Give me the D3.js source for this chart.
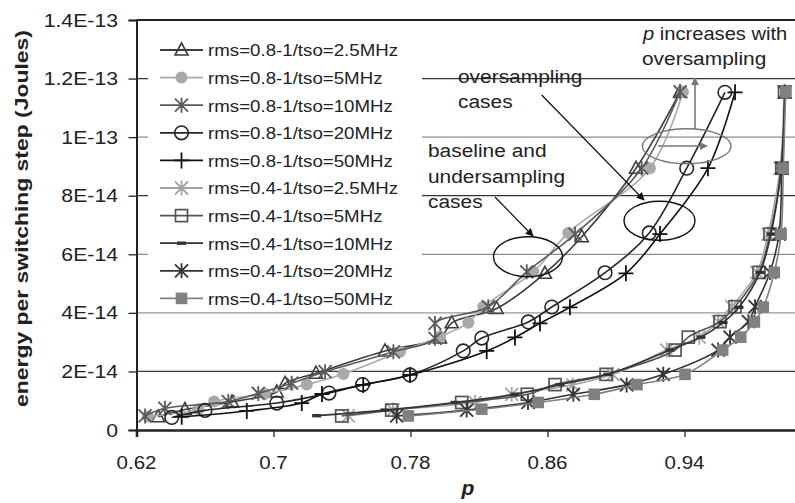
<!DOCTYPE html>
<html><head><meta charset="utf-8">
<script src="https://cdn.jsdelivr.net/npm/d3@7"></script>
<style>
body{margin:0;background:#fff}
svg{display:block}
text{font-family:"Liberation Sans",Arial,sans-serif;fill:#222}
</style>
</head><body>
<svg id="chart" width="795" height="503"></svg>
<script>
// ---------- data ----------
const yTicks = [0, 2e-14, 4e-14, 6e-14, 8e-14, 1e-13, 1.2e-13, 1.4e-13];
const yTickLabels = ["0", "2E-14", "4E-14", "6E-14", "8E-14", "1E-13", "1.2E-13", "1.4E-13"];
const xTicks = [0.62, 0.70, 0.78, 0.86, 0.94];
const xTickLabels = ["0.62", "0.7", "0.78", "0.86", "0.94"];
const seriesNames = [
  "rms=0.8-1/tso=2.5MHz", "rms=0.8-1/tso=5MHz", "rms=0.8-1/tso=10MHz",
  "rms=0.8-1/tso=20MHz", "rms=0.8-1/tso=50MHz", "rms=0.4-1/tso=2.5MHz",
  "rms=0.4-1/tso=5MHz", "rms=0.4-1/tso=10MHz", "rms=0.4-1/tso=20MHz",
  "rms=0.4-1/tso=50MHz"
];
// p values per series
const p08_25 = [0.6327, 0.6483, 0.6758, 0.7019, 0.7067, 0.7248, 0.7651, 0.7972, 0.8041, 0.8303, 0.8585, 0.8800, 0.9117, 0.9374];
const p08_5  = [0.6267, 0.6561, 0.6653, 0.6950, 0.7194, 0.7408, 0.7739, 0.7972, 0.8138, 0.8225, 0.8517, 0.8721, 0.9198, 0.9391];
const p08_10 = [0.6250, 0.6366, 0.6736, 0.6911, 0.7106, 0.7301, 0.7700, 0.7943, 0.7943, 0.8254, 0.8479, 0.8761, 0.9150, 0.9374];
const p08_20 = [0.6406, 0.6600, 0.7019, 0.7324, 0.7520, 0.7797, 0.8108, 0.8216, 0.8488, 0.8625, 0.8936, 0.9194, 0.9413, 0.9636];
const p08_50 = [0.6464, 0.6844, 0.7165, 0.7283, 0.7524, 0.7797, 0.8245, 0.8410, 0.8556, 0.8731, 0.9058, 0.9257, 0.9537, 0.9695];
const p04_25 = [0.7437, 0.7698, 0.8177, 0.8391, 0.8747, 0.8981, 0.9296, 0.9486, 0.9597, 0.9676, 0.9823, 0.9888, 0.9958, 0.9981];
const p04_5  = [0.7398, 0.7690, 0.8099, 0.8482, 0.8644, 0.8942, 0.9345, 0.9422, 0.9607, 0.9695, 0.9835, 0.9899, 0.9968, 0.9984];
const p04_10 = [0.7252, 0.7651, 0.8060, 0.8410, 0.8673, 0.8953, 0.9315, 0.9496, 0.9625, 0.9718, 0.9841, 0.9905, 0.9964, 0.9987];
const p04_20 = [0.7719, 0.8128, 0.8486, 0.8751, 0.9062, 0.9276, 0.9596, 0.9666, 0.9773, 0.9812, 0.9899, 0.9952, 0.9969, 0.9987];
const p04_50 = [0.7787, 0.8216, 0.8546, 0.8873, 0.9123, 0.9403, 0.9623, 0.9728, 0.9808, 0.9860, 0.9924, 0.9964, 0.9977, 0.9991];
// energy per switching step (Joules) per series
const e08_25 = [0.45e-14, 0.70e-14, 0.96e-14, 1.30e-14, 1.59e-14, 1.94e-14, 2.70e-14, 3.14e-14, 3.66e-14, 4.15e-14, 5.35e-14, 6.60e-14, 8.94e-14, 11.54e-14];
const e08_5  = [0.46e-14, 0.71e-14, 0.97e-14, 1.24e-14, 1.55e-14, 1.91e-14, 2.67e-14, 3.19e-14, 3.66e-14, 4.21e-14, 5.40e-14, 6.73e-14, 8.94e-14, 11.55e-14];
const e08_10 = [0.48e-14, 0.74e-14, 0.97e-14, 1.25e-14, 1.60e-14, 1.99e-14, 2.67e-14, 3.13e-14, 3.64e-14, 4.21e-14, 5.40e-14, 6.69e-14, 8.94e-14, 11.55e-14];
const e08_20 = [0.43e-14, 0.67e-14, 0.92e-14, 1.26e-14, 1.55e-14, 1.88e-14, 2.70e-14, 3.14e-14, 3.69e-14, 4.20e-14, 5.37e-14, 6.73e-14, 8.94e-14, 11.53e-14];
const e08_50 = [0.45e-14, 0.65e-14, 0.92e-14, 1.23e-14, 1.54e-14, 1.88e-14, 2.70e-14, 3.16e-14, 3.64e-14, 4.19e-14, 5.35e-14, 6.69e-14, 8.94e-14, 11.53e-14];
const e04_25 = [0.48e-14, 0.68e-14, 0.94e-14, 1.22e-14, 1.54e-14, 1.90e-14, 2.73e-14, 3.17e-14, 3.70e-14, 4.21e-14, 5.38e-14, 6.69e-14, 8.94e-14, 11.54e-14];
const e04_5  = [0.48e-14, 0.68e-14, 0.94e-14, 1.22e-14, 1.55e-14, 1.90e-14, 2.73e-14, 3.17e-14, 3.70e-14, 4.21e-14, 5.38e-14, 6.69e-14, 8.94e-14, 11.54e-14];
const e04_10 = [0.49e-14, 0.68e-14, 0.94e-14, 1.22e-14, 1.55e-14, 1.90e-14, 2.73e-14, 3.17e-14, 3.67e-14, 4.19e-14, 5.38e-14, 6.69e-14, 8.94e-14, 11.54e-14];
const e04_20 = [0.48e-14, 0.68e-14, 0.94e-14, 1.22e-14, 1.54e-14, 1.90e-14, 2.73e-14, 3.17e-14, 3.70e-14, 4.21e-14, 5.38e-14, 6.69e-14, 8.94e-14, 11.54e-14];
const e04_50 = [0.48e-14, 0.71e-14, 0.94e-14, 1.22e-14, 1.55e-14, 1.90e-14, 2.73e-14, 3.17e-14, 3.69e-14, 4.20e-14, 5.38e-14, 6.69e-14, 8.94e-14, 11.55e-14];

const pSeries = [p08_25, p08_5, p08_10, p08_20, p08_50, p04_25, p04_5, p04_10, p04_20, p04_50];
const eSeries = [e08_25, e08_5, e08_10, e08_20, e08_50, e04_25, e04_5, e04_10, e04_20, e04_50];
const markerTypes = ["tri", "dot", "star", "circle", "plus", "star", "square", "dash", "star", "fsquare"];
const colors = ["#3c3c3c", "#a9a9a9", "#5a5a5a", "#262626", "#111111", "#a4a4a4", "#555555", "#333333", "#333333", "#808080"];

// ---------- layout ----------
const svg = d3.select("#chart");
const x = d3.scaleLinear().domain([0.62, 1.02]).range([136.5, 821.5]);
const y = d3.scaleLinear().domain([0, 1.4e-13]).range([430, 20]);

function sText(parent, str, tx, ty, size, k, anchor, extra) {
  const t = parent.append("text")
    .attr("transform", `translate(${tx},${ty}) scale(${k},1)`)
    .attr("font-size", size)
    .attr("text-anchor", anchor || "start")
    .text(str);
  if (extra) extra(t);
  return t;
}

// gridlines
const gridColors = ["none", "#3a3a3a", "#9a9a9a", "#8a8a8a", "#333333", "#8a8a8a", "#333333", "none"];
svg.append("g").selectAll("line").data(yTicks).join("line")
  .attr("x1", x(0.62)).attr("x2", 795)
  .attr("y1", d => y(d)).attr("y2", d => y(d))
  .attr("stroke", (d, i) => gridColors[i]).attr("stroke-width", 1.3);

// top border
svg.append("line").attr("x1", x(0.62)).attr("x2", 795).attr("y1", y(1.4e-13)).attr("y2", y(1.4e-13))
  .attr("stroke", "#222").attr("stroke-width", 2.2);

// axes
const yAxis = d3.axisLeft(y).tickValues(yTicks).tickSize(8).tickFormat("");
const gy = svg.append("g").attr("transform", `translate(${x(0.62)},0)`).call(yAxis);
gy.select(".domain").attr("stroke", "#222").attr("stroke-width", 2);
gy.selectAll(".tick line").attr("stroke", "#222").attr("stroke-width", 1.3);

const xAxis = d3.axisBottom(x).tickValues(xTicks).tickSize(7).tickFormat("");
const gx = svg.append("g").attr("transform", `translate(0,${y(0)})`).call(xAxis);
gx.select(".domain").attr("stroke", "#222").attr("stroke-width", 2.6);
gx.selectAll(".tick line").attr("stroke", "#222").attr("stroke-width", 1.3);

// tick labels
const lab = svg.append("g");
yTicks.forEach((v, i) => sText(lab, yTickLabels[i], 118, y(v) + 6.5, 18, 1.18, "end"));
xTicks.forEach((v, i) => sText(lab, xTickLabels[i], x(v), 469, 19, 1.08, "middle"));

// axis titles
svg.append("text").attr("transform", "translate(28,218.5) rotate(-90)")
  .attr("text-anchor", "middle").attr("font-size", 19).attr("font-weight", "bold")
  .attr("textLength", 377).attr("lengthAdjust", "spacingAndGlyphs")
  .text("energy per switching step (Joules)");
svg.append("text").attr("x", 468).attr("y", 495).attr("text-anchor", "middle")
  .attr("font-size", 21).attr("font-weight", "bold").attr("font-style", "italic").text("p");

// ---------- markers ----------
function drawMarker(g, type, color, cx, cy, scale) {
  const s = scale || 1;
  switch (type) {
    case "tri":
      g.append("path").attr("d", `M${cx},${cy - 7 * s}L${cx - 6.5 * s},${cy + 5 * s}L${cx + 6.5 * s},${cy + 5 * s}Z`)
        .attr("fill", "none").attr("stroke", color).attr("stroke-width", 1.6);
      break;
    case "dot":
      g.append("circle").attr("cx", cx).attr("cy", cy).attr("r", 6 * s).attr("fill", color);
      break;
    case "star": {
      const a = 6.5 * s;
      g.append("path").attr("d", `M${cx - a},${cy - a}L${cx + a},${cy + a}M${cx - a},${cy + a}L${cx + a},${cy - a}M${cx},${cy - a - 1}L${cx},${cy + a + 1}`)
        .attr("stroke", color).attr("stroke-width", 1.8).attr("fill", "none");
      break;
    }
    case "circle":
      g.append("circle").attr("cx", cx).attr("cy", cy).attr("r", 6.8 * s)
        .attr("fill", "none").attr("stroke", color).attr("stroke-width", 1.6);
      break;
    case "plus":
      g.append("path").attr("d", `M${cx - 7.5 * s},${cy}L${cx + 7.5 * s},${cy}M${cx},${cy - 8 * s}L${cx},${cy + 8 * s}`)
        .attr("stroke", color).attr("stroke-width", 1.8);
      break;
    case "square":
      g.append("rect").attr("x", cx - 6 * s).attr("y", cy - 6 * s).attr("width", 12 * s).attr("height", 12 * s)
        .attr("fill", "none").attr("stroke", color).attr("stroke-width", 1.7);
      break;
    case "dash":
      g.append("rect").attr("x", cx - 4.5 * s).attr("y", cy - 1.7 * s).attr("width", 9 * s).attr("height", 3.4 * s)
        .attr("fill", color);
      break;
    case "fsquare":
      g.append("rect").attr("x", cx - 5.8 * s).attr("y", cy - 5.8 * s).attr("width", 11.6 * s).attr("height", 11.6 * s)
        .attr("fill", color);
      break;
  }
}

// ---------- legend ----------
const leg = svg.append("g");
leg.append("rect").attr("x", 148).attr("y", 34).attr("width", 274).attr("height", 276).attr("fill", "#fff");
seriesNames.forEach((name, i) => {
  const cy = 50 + i * 27.6;
  leg.append("line").attr("x1", 160).attr("x2", 203).attr("y1", cy).attr("y2", cy)
    .attr("stroke", colors[i]).attr("stroke-width", 1.8);
  drawMarker(leg, markerTypes[i], colors[i], 181.5, cy, 1);
  sText(leg, name, 208, cy + 6.3, 17, 1.1, "start");
});

// ---------- series ----------
const lineGen = d3.line().x(d => x(d[0])).y(d => y(d[1])).curve(d3.curveCatmullRom.alpha(0.5));
const plot = svg.append("g");
pSeries.forEach((ps, i) => {
  const pts = ps.map((p, j) => [p, eSeries[i][j]]);
  const g = plot.append("g");
  g.append("path").attr("d", lineGen(pts)).attr("fill", "none")
    .attr("stroke", colors[i]).attr("stroke-width", 1.6);
  pts.forEach(d => drawMarker(g, markerTypes[i], colors[i], x(d[0]), y(d[1]), 1));
});

// ---------- annotations ----------
const ann = svg.append("g");
const defs = svg.append("defs");
[["ahB", "#111"], ["ahG", "#777"]].forEach(([id, c]) => {
  defs.append("marker").attr("id", id).attr("viewBox", "0 0 10 10").attr("refX", 9).attr("refY", 5)
    .attr("markerWidth", 8).attr("markerHeight", 8).attr("markerUnits", "userSpaceOnUse").attr("orient", "auto")
    .append("path").attr("d", "M0,0L10,5L0,10Z").attr("fill", c);
});
ann.append("ellipse").attr("cx", 528).attr("cy", 256.7).attr("rx", 34.5).attr("ry", 20)
  .attr("fill", "none").attr("stroke", "#111").attr("stroke-width", 1.4);
ann.append("ellipse").attr("cx", 659.5).attr("cy", 220.8).attr("rx", 35.5).attr("ry", 19.5)
  .attr("fill", "none").attr("stroke", "#111").attr("stroke-width", 1.4);
ann.append("ellipse").attr("cx", 686.7).attr("cy", 146.2).attr("rx", 44.3).attr("ry", 17.5)
  .attr("fill", "none").attr("stroke", "#777").attr("stroke-width", 1.4);
ann.append("line").attr("x1", 495).attr("y1", 197).attr("x2", 533).attr("y2", 236)
  .attr("stroke", "#111").attr("stroke-width", 1.2).attr("marker-end", "url(#ahB)");
ann.append("line").attr("x1", 541.7).attr("y1", 95).attr("x2", 644).attr("y2", 200)
  .attr("stroke", "#111").attr("stroke-width", 1.2).attr("marker-end", "url(#ahB)");
ann.append("line").attr("x1", 695).attr("y1", 129).attr("x2", 695).attr("y2", 78)
  .attr("stroke", "#777").attr("stroke-width", 1.6).attr("marker-end", "url(#ahG)");
ann.append("line").attr("x1", 658).attr("y1", 146).attr("x2", 707).attr("y2", 146)
  .attr("stroke", "#777").attr("stroke-width", 1.6).attr("marker-end", "url(#ahG)");

sText(ann, "oversampling", 458, 82.7, 19, 1.1);
sText(ann, "cases", 458, 108.3, 19, 1.1);
sText(ann, "baseline and", 428, 157, 19, 1.1);
sText(ann, "undersampling", 428, 183, 19, 1.1);
sText(ann, "cases", 428, 208, 19, 1.1);
const pInc = ann.append("text").attr("transform", "translate(643,39.5) scale(1.06,1)").attr("font-size", 19);
pInc.append("tspan").attr("font-style", "italic").text("p");
pInc.append("tspan").text(" increases with");
sText(ann, "oversampling", 642, 65, 19, 1.1);
</script>
</body></html>
